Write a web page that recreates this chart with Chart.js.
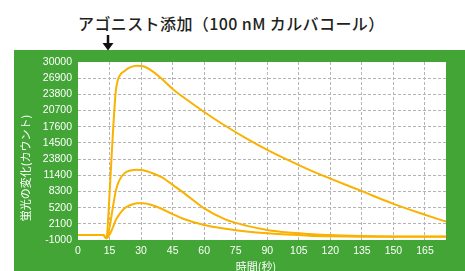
<!DOCTYPE html>
<html>
<head>
<meta charset="utf-8">
<script src="https://cdn.jsdelivr.net/npm/chart.js@4"></script>
<style>
  body { margin: 0; background: #fff; }
  #wrap { position: relative; width: 465px; height: 271px; }
  #head {
    position: absolute; left: 78px; top: 11px;
    font: 500 16px "Noto Sans CJK JP", sans-serif;
    color: #231f20; white-space: nowrap; letter-spacing: 0.4px;
  }
  canvas { position: absolute; left: 0; top: 0; }
</style>
</head>
<body>
<div id="wrap">
  <div id="head">アゴニスト添加（100 nM カルバコール）</div>
  <canvas id="myChart" width="465" height="271"></canvas>
</div>
<script>
// tiempo (s)
var times = [0, 12, 13.5, 15, 16.5, 18, 19.5, 22, 25, 28, 31, 35, 40, 45, 50, 60, 70, 80, 90, 100, 110, 120, 135, 150, 165, 175];

var alta = [-150, -150, -700, 7000, 17000, 25000, 27400, 28400, 29100, 29350, 29250, 28500, 27000, 25300, 23900, 21300, 18900, 16700, 14700, 12900, 11200, 9700, 7500, 5300, 3400, 2200];
var media = [-150, -150, -700, 1200, 4500, 7600, 9300, 10600, 11100, 11250, 11150, 10700, 9900, 8600, 7300, 4500, 2600, 1500, 750, 300, 50, -150, -300, -380, -400, -400];
var baja = [-150, -150, -700, -100, 1100, 2500, 3400, 4500, 5100, 5400, 5400, 5100, 4400, 3500, 2700, 1600, 950, 500, 170, -50, -250, -350, -420, -440, -450, -450];

var xTicks = [0, 15, 30, 45, 60, 75, 90, 105, 120, 135, 150, 165];
// etiquetas tal cual aparecen (de abajo hacia arriba)
var yLabels = ["-1000", "2100", "5200", "8300", "11400", "23800", "14500", "17600", "20700", "23800", "26900", "30000"];

var yMin = -1000, yMax = 30000;
var verde = "#42a535";
var naranja = "#f9b200";

function puntos(vals) {
  return times.map((t, i) => ({ x: t, y: vals[i] }));
}

var panel = {
  id: "panel",
  beforeDraw(chart) {
    const ctx = chart.ctx, a = chart.chartArea;
    ctx.save();
    ctx.fillStyle = verde;
    ctx.fillRect(14, 50, 451, 221);
    ctx.fillStyle = "#fff";
    ctx.fillRect(a.left, a.top, a.right - a.left, a.bottom - a.top);
    ctx.restore();
  },
  afterDraw(chart) {
    const ctx = chart.ctx;
    ctx.save();
    // flecha
    ctx.strokeStyle = "#111";
    ctx.fillStyle = "#111";
    ctx.lineWidth = 2.5;
    ctx.beginPath();
    ctx.moveTo(108, 35);
    ctx.lineTo(108, 45);
    ctx.stroke();
    ctx.beginPath();
    ctx.moveTo(102.5, 43);
    ctx.lineTo(113.5, 43);
    ctx.lineTo(108, 50.5);
    ctx.closePath();
    ctx.fill();
    // titulos de ejes
    ctx.fillStyle = "#fff";
    ctx.font = '11px "Noto Sans CJK JP"';
    ctx.textAlign = "center";
    ctx.textBaseline = "middle";
    ctx.fillText("時間(秒)", 256, 267);
    ctx.translate(26, 168);
    ctx.rotate(-Math.PI / 2);
    ctx.fillText("蛍光の変化(カウント)", 0, 0);
    ctx.restore();
  }
};

var estilo = { borderColor: naranja, borderWidth: 2, pointRadius: 0, cubicInterpolationMode: "monotone", fill: false };

new Chart("myChart", {
  type: "line",
  data: {
    datasets: [
      Object.assign({ data: puntos(alta) }, estilo),
      Object.assign({ data: puntos(media) }, estilo),
      Object.assign({ data: puntos(baja) }, estilo)
    ]
  },
  options: {
    responsive: false,
    animation: false,
    layout: { autoPadding: false, padding: { left: 14, top: 62, right: 19, bottom: 0 } },
    plugins: { legend: { display: false }, tooltip: { enabled: false } },
    scales: {
      x: {
        type: "linear",
        min: 0,
        max: 175,
        afterBuildTicks: axis => { axis.ticks = xTicks.map(v => ({ value: v })); },
        afterFit: axis => { axis.height = 31; },
        ticks: { color: "#fff", font: { family: "Liberation Sans", size: 10.5 }, padding: 5, maxRotation: 0, autoSkip: false },
        grid: {
          drawTicks: false,
          color: c => (c.tick && c.tick.value === 0) ? "rgba(0,0,0,0)" : "#b4b4b4"
        },
        border: { display: false, dash: [3, 2] }
      },
      y: {
        min: yMin,
        max: yMax,
        afterBuildTicks: axis => {
          axis.ticks = yLabels.map((l, i) => ({ value: yMin + i * (yMax - yMin) / (yLabels.length - 1) }));
        },
        afterFit: axis => { axis.width = 64; },
        ticks: {
          color: "#fff",
          font: { family: "Liberation Sans", size: 10.5 },
          padding: 6,
          autoSkip: false,
          callback: (v, i) => yLabels[i]
        },
        grid: {
          drawTicks: false,
          color: c => (c.index === 0 || c.index === yLabels.length - 1) ? "rgba(0,0,0,0)" : "#b4b4b4"
        },
        border: { display: false, dash: [3, 2] }
      }
    }
  },
  plugins: [panel]
});
</script>
</body>
</html>
